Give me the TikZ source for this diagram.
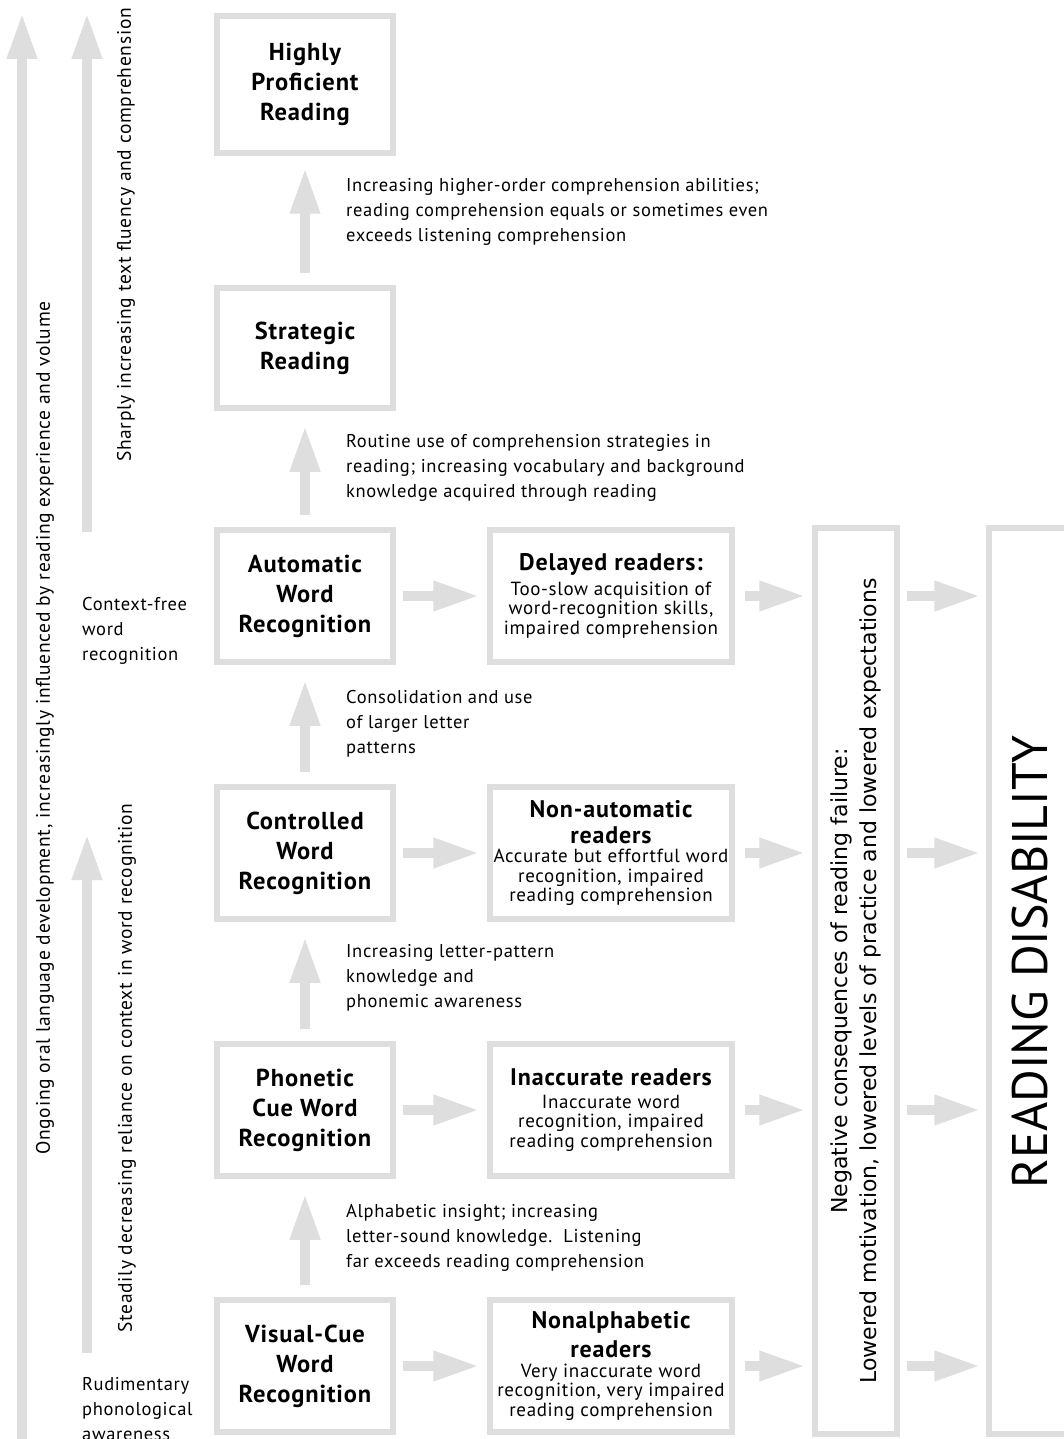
\documentclass[tikz,border=0pt]{standalone}
\usepackage{fontspec}
\setmainfont{PT Sans}[LetterSpace=3.5]
\newfontfamily\dvfont{DejaVu Sans}
\newfontfamily\rdfont{PT Sans}
\usetikzlibrary{arrows.meta}
\definecolor{lg}{HTML}{DEDEDE}
\begin{document}
\begin{tikzpicture}[x=1pt,y=-1pt,
  box/.style={draw=lg, line width=5.5pt, inner sep=0pt, align=center, text=black},
  stage/.style={box, minimum width=176pt, minimum height=132pt, font=\fontsize{24.5}{30}\selectfont\bfseries},
  reader/.style={box, minimum width=242pt, minimum height=132pt, font=\fontsize{19}{19.5}\selectfont},
  note/.style={anchor=west, align=left, font=\fontsize{18.5}{25}\selectfont, inner sep=0pt},
  side/.style={rotate=90, inner sep=0pt, font=\fontsize{19.5}{25}\selectfont},
  arr/.style={draw=lg, line width=10pt, -{Triangle[length=46pt,width=28pt]}},
]
\useasboundingbox (0,0) rectangle (1063,1439);
\fill[white] (0,0) rectangle (1063,1439);

% left long arrows
\coordinate (l1s) at (22,1445);
\coordinate (l1e) at (22,13);
\coordinate (l2s) at (87,532);
\coordinate (l2e) at (87,13);
\coordinate (l3s) at (87,1353);
\coordinate (l3e) at (87,834);
\draw[arr] (l1s) -- (l1e);
\draw[arr] (l2s) -- (l2e);
\draw[arr] (l3s) -- (l3e);

\node[side] (t1) at (45,728) {Ongoing oral language development, increasingly influenced by reading experience and volume};
\node[side] (t2) at (126,235) {Sharply increasing text fluency and comprehension};
\node[side] (t3) at (127,1068) {Steadily decreasing reliance on context in word recognition};

\node[note] (cf) at (82,631) {Context-free\\word\\recognition};
\node[note] (rp) at (82,1409) {Rudimentary\\phonological\\awareness};

% stages
\node[stage, minimum height=137pt] (hp) at (305,84.5) {Highly\\Proficient\\Reading};
\node[stage, minimum height=120pt] (sr) at (305,348) {Strategic\\Reading};
\node[stage] (aw) at (305,596) {Automatic\\Word\\Recognition};
\node[stage] (cw) at (305,853) {Controlled\\Word\\Recognition};
\node[stage] (pw) at (305,1110) {Phonetic\\Cue Word\\Recognition};
\node[stage] (vw) at (305,1366) {Visual-Cue\\Word\\Recognition};

% readers
\node[reader] (dr) at (611,596) {{\fontsize{24}{26}\selectfont\bfseries Delayed readers:}\\[5pt]Too-slow acquisition of\\word-recognition skills,\\impaired comprehension};
\node[reader] (nr) at (611,853) {{\fontsize{24}{26}\selectfont\bfseries Non-automatic}\\[6pt]{\fontsize{24}{26}\selectfont\bfseries readers}\\Accurate but effortful word\\recognition, impaired\\reading comprehension};
\node[reader] (ir) at (611,1110) {{\fontsize{24}{26}\selectfont\bfseries Inaccurate readers}\\[3pt]Inaccurate word\\recognition, impaired\\reading comprehension};
\node[reader] (na) at (611,1366) {{\fontsize{24}{26}\selectfont\bfseries Nonalphabetic}\\[6pt]{\fontsize{24}{26}\selectfont\bfseries readers}\\Very inaccurate word\\recognition, very impaired\\reading comprehension};

% consequences
\node[box, minimum width=82pt, minimum height=906pt] (neg) at (856,981) {};
\node[rotate=90, align=center, inner sep=0pt, font=\dvfont\fontsize{22}{29}\selectfont] (negt) at (neg.center) {Negative consequences of reading failure:\\Lowered motivation, lowered levels of practice and lowered expectations};
\node[box, minimum width=148pt, minimum height=906pt] (rd) at (1063,981) {};
\node[rotate=90, inner sep=0pt, font=\rdfont\fontsize{50}{60}\selectfont] (rdt) at (1030,962) {READING DISABILITY};

% notes
\node[note] (n1) at (346,212) {Increasing higher-order comprehension abilities;\\reading comprehension equals or sometimes even\\exceeds listening comprehension};
\node[note] (n2) at (346,468) {Routine use of comprehension strategies in\\reading; increasing vocabulary and background\\knowledge acquired through reading};
\node[note] (n3) at (346,724) {Consolidation and use\\of larger letter\\patterns};
\node[note] (n4) at (346,978) {Increasing letter-pattern\\knowledge and\\phonemic awareness};
\node[note] (n5) at (346,1238) {Alphabetic insight; increasing\\letter-sound knowledge.\ \ Listening\\far exceeds reading comprehension};

% up arrows
\draw[arr] ([yshift=12pt]sr.north) -- ([yshift=-12pt]hp.south);
\draw[arr] ([yshift=12pt]aw.north) -- ([yshift=-15pt]sr.south);
\draw[arr] ([yshift=12pt]cw.north) -- ([yshift=-15pt]aw.south);
\draw[arr] ([yshift=12pt]pw.north) -- ([yshift=-15pt]cw.south);
\draw[arr] ([yshift=12pt]vw.north) -- ([yshift=-15pt]pw.south);

% right arrows
\foreach \a/\b in {aw/dr, cw/nr, pw/ir, vw/na}{
  \draw[arr] ([xshift=7pt]\a.east) -- ([xshift=-8pt]\b.west);
  \draw[arr] ([xshift=10pt]\b.east) -- ([xshift=-7pt]neg.west |- \b.east);
  \draw[arr] ([xshift=7pt]neg.east |- \b.east) -- ([xshift=-6pt]rd.west |- \b.east);
}
\end{tikzpicture}
\end{document}
